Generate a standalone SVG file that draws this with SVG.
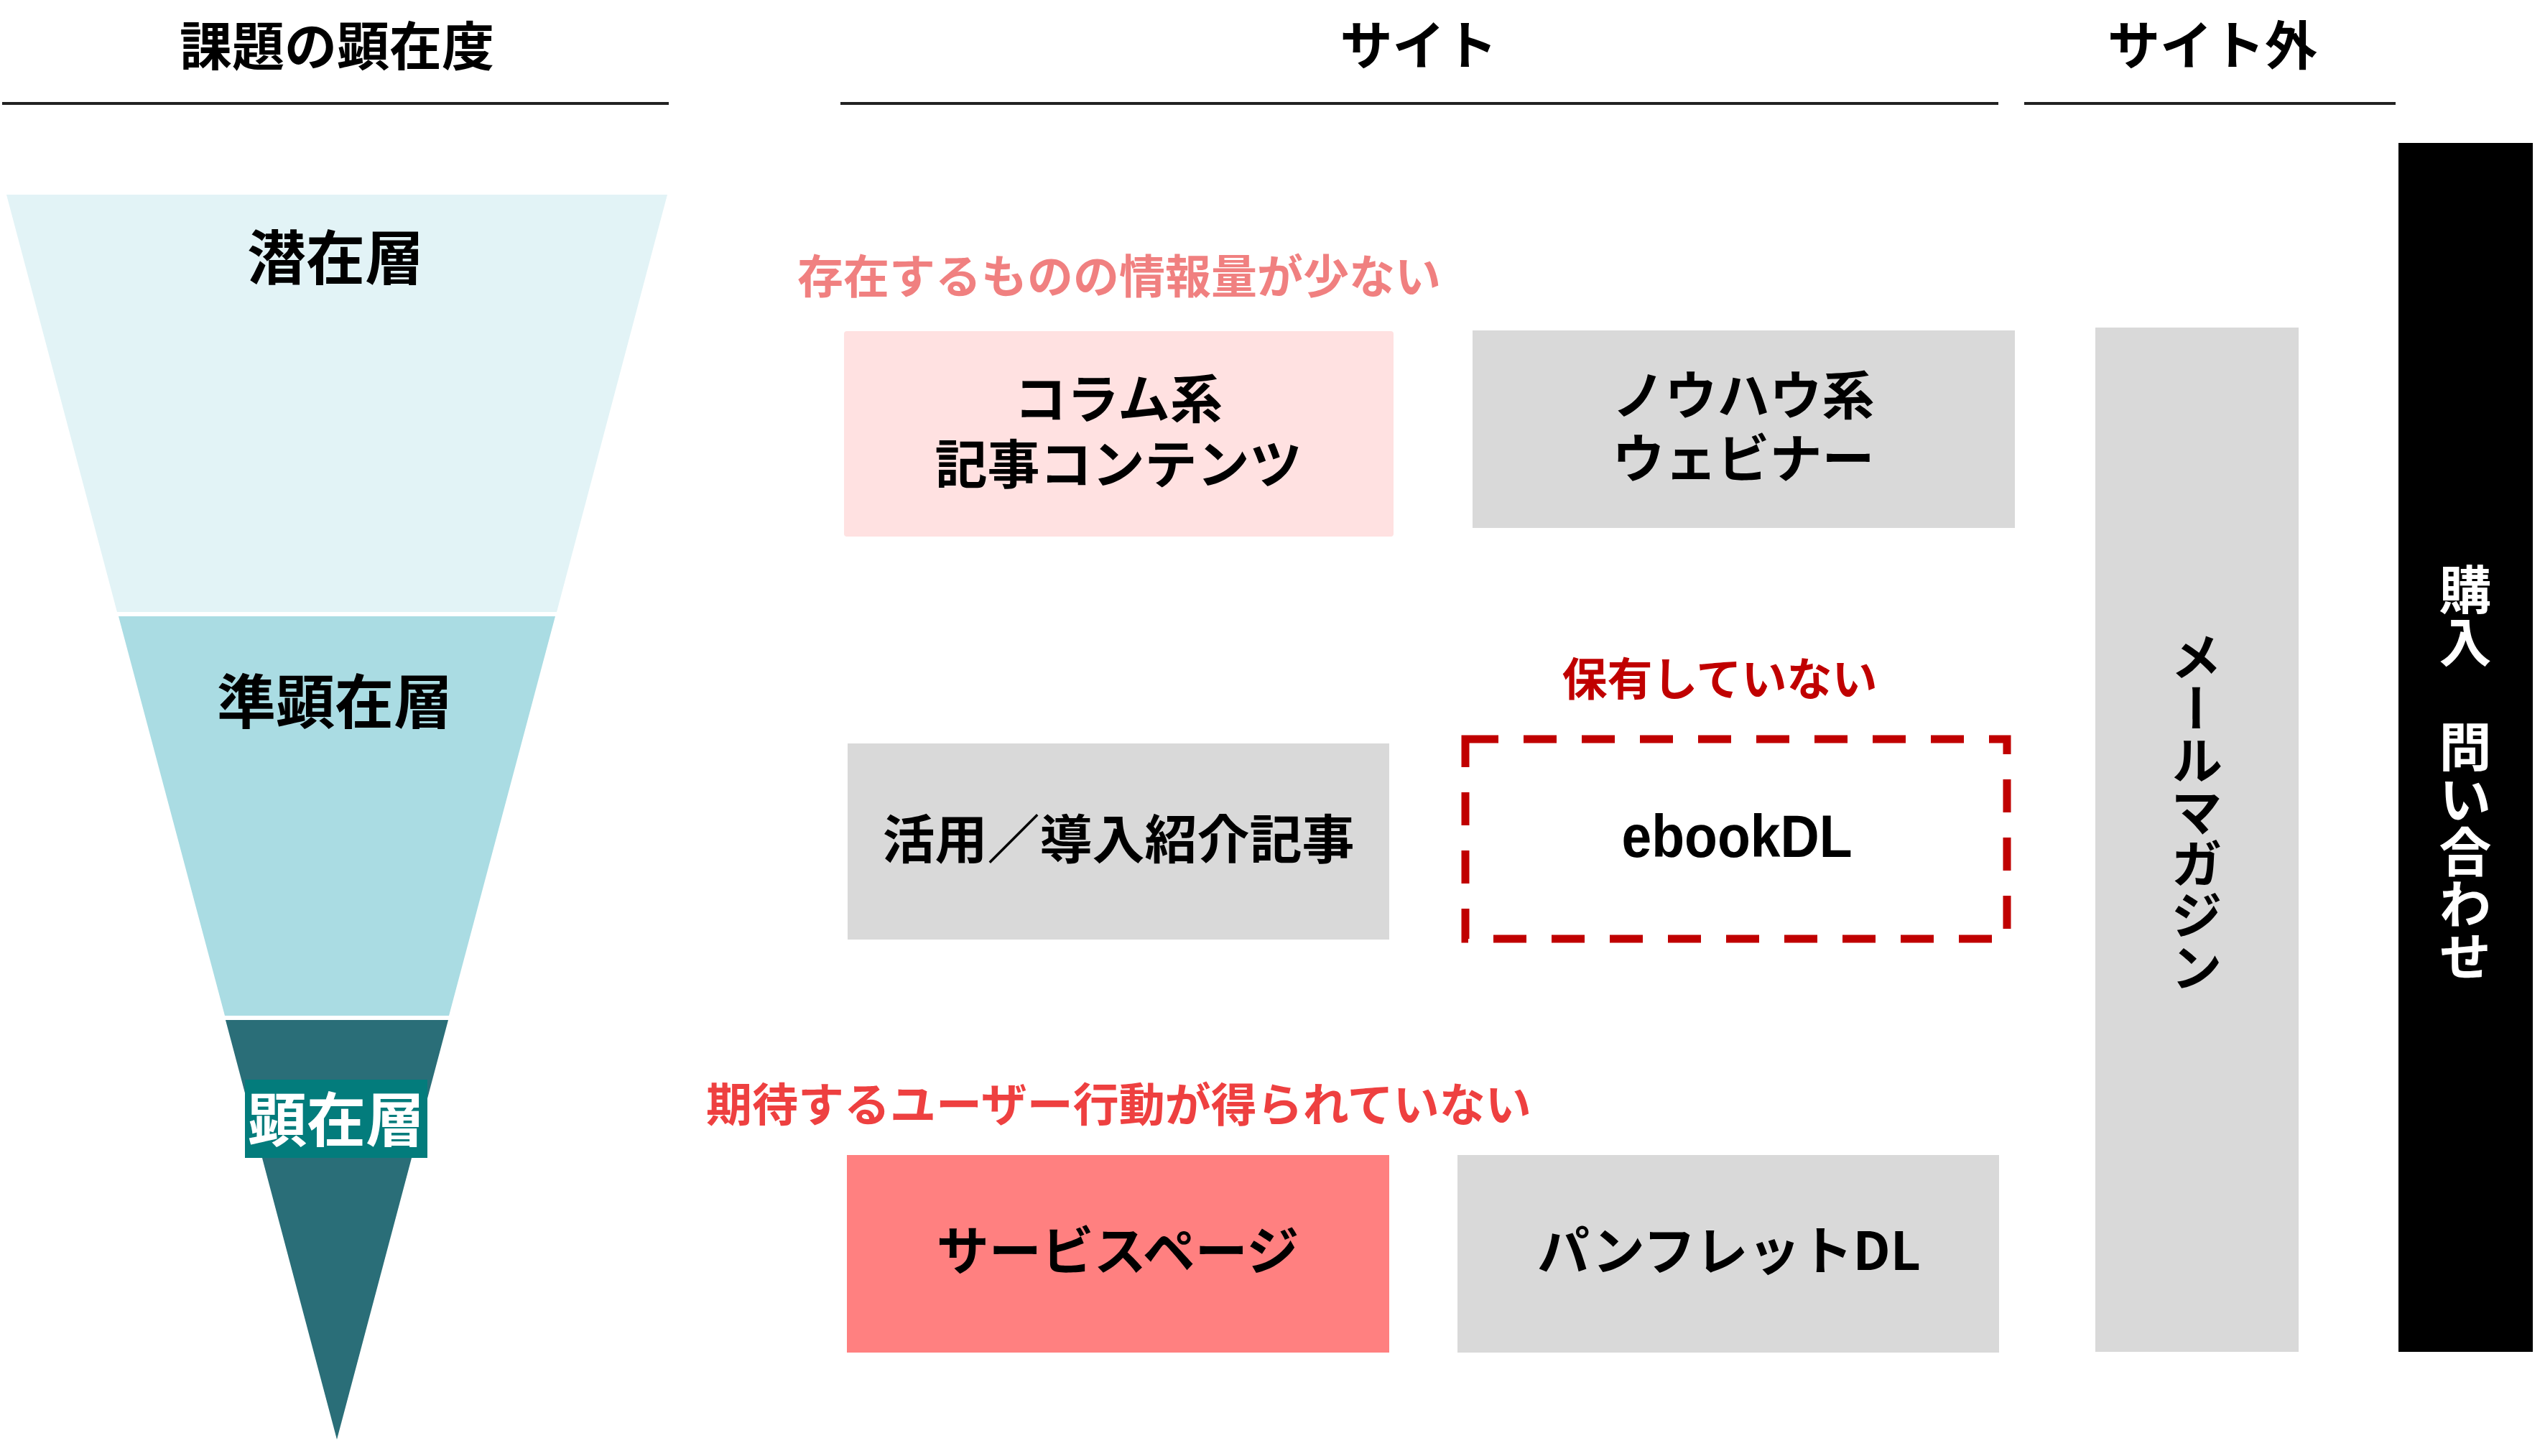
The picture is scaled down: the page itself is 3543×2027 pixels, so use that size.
<svg xmlns="http://www.w3.org/2000/svg" width="3543" height="2027" viewBox="0 0 3543 2027">
<style>
.jp{font-family:"Noto Sans CJK JP","Noto Sans CJK SC",sans-serif;font-weight:700;dominant-baseline:central;text-anchor:middle;}
.h{font-size:73px;fill:#000;}
.lbl{font-size:73px;fill:#000;}
.note{font-size:64px;text-anchor:start;}
.vert{writing-mode:vertical-rl;}
</style>
<rect width="3543" height="2027" fill="#fff"/>
<g id="headers">
<text class="jp h" x="469" y="59">課題の顕在度</text>
<text class="jp h" x="1975" y="58">サイト</text>
<text class="jp h" x="3080" y="58">サイト外</text>
<line x1="3" y1="144" x2="931" y2="144" stroke="#222" stroke-width="4"/>
<line x1="1170" y1="144" x2="2782" y2="144" stroke="#222" stroke-width="4"/>
<line x1="2818" y1="144" x2="3335" y2="144" stroke="#222" stroke-width="4"/>
</g>
<g id="funnel">
<g id="latent">
<polygon points="9,271 929,271 775,852 163,852" fill="#E2F3F6"/>
<text class="jp" x="467" y="353" font-size="82" fill="#000">潜在層</text>
</g>
<g id="semi">
<polygon points="165,858 773,858 625,1414 313,1414" fill="#AADCE3"/>
<text class="jp" x="466" y="971" font-size="82" fill="#000">準顕在層</text>
</g>
<g id="manifest">
<polygon points="314,1420 624,1420 469,2004" fill="#2A6E78"/>
<rect x="341" y="1503" width="254" height="109" fill="#037C7C"/>
<text class="jp" x="468" y="1553" font-size="82" fill="#fff" font-weight="500">顕在層</text>
</g>
</g>
<g id="notes">
<text class="jp note" x="1110" y="380" fill="#F08080">存在するものの情報量が少ない</text>
<text class="jp" x="2394" y="940" font-size="63" fill="#C00000">保有していない</text>
<text class="jp note" x="983" y="1533" fill="#EE4040">期待するユーザー行動が得られていない</text>
</g>
<g id="column">
<rect x="1175" y="461" width="765" height="286" rx="4" fill="#FFE1E1"/>
<text class="jp lbl"><tspan x="1557" y="550">コラム系</tspan><tspan x="1557" y="641">記事コンテンツ</tspan></text>
</g>
<g id="webinar">
<rect x="2050" y="460" width="755" height="275" fill="#D9D9D9"/>
<text class="jp lbl"><tspan x="2427" y="545">ノウハウ系</tspan><tspan x="2427" y="633">ウェビナー</tspan></text>
</g>
<g id="usecase">
<rect x="1180" y="1035" width="754" height="273" fill="#D9D9D9"/>
<text class="jp lbl" x="1557" y="1163">活用／導入紹介記事</text>
</g>
<g id="ebook">
<rect x="2040" y="1029" width="754" height="278" fill="none" stroke="#C00000" stroke-width="11" stroke-dasharray="46 35"/>
<text x="2418" y="1193" font-family="'Liberation Sans',Arial,sans-serif" font-weight="700" font-size="83" text-anchor="middle" textLength="321" lengthAdjust="spacingAndGlyphs" fill="#000">ebookDL</text>
</g>
<g id="service">
<rect x="1179" y="1608" width="755" height="275" fill="#FF8080"/>
<text class="jp lbl" x="1556" y="1736">サービスページ</text>
</g>
<g id="pamphlet">
<rect x="2029" y="1608" width="754" height="275" fill="#D9D9D9"/>
<text class="jp lbl" x="2407" y="1736">パンフレットDL</text>
</g>
<g id="mailmag">
<rect x="2917" y="456" width="283" height="1426" fill="#D9D9D9"/>
<text class="jp vert" x="3058" y="1130" font-size="72" fill="#000">メールマガジン</text>
</g>
<g id="purchase">
<rect x="3339" y="199" width="187" height="1683" fill="#000"/>
<text class="jp vert" x="3432" y="1076" font-size="73" fill="#fff">購入　問い合わせ</text>
</g>
<g id="connectors"></g>
</svg>
